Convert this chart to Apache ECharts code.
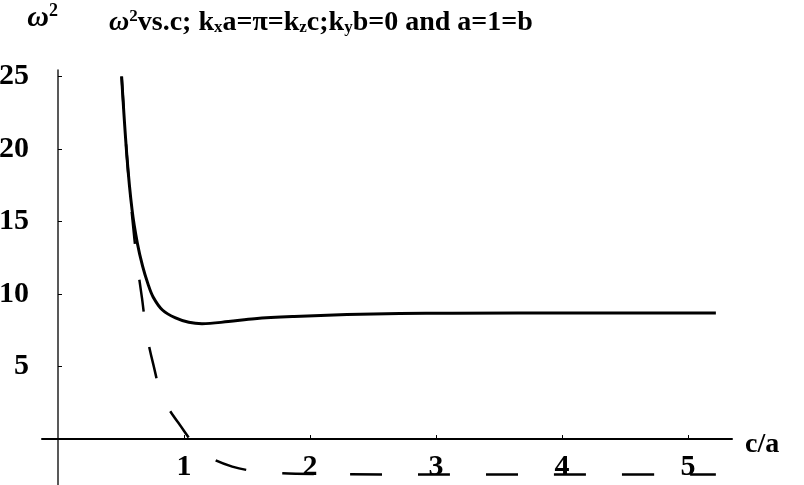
<!DOCTYPE html>
<html>
<head>
<meta charset="utf-8">
<script src="https://cdn.jsdelivr.net/npm/echarts@6/dist/echarts.min.js"></script>
<style>html,body{margin:0;padding:0;background:#fff}#c{width:804px;height:485px}</style>
</head>
<body>
<div id="c"></div>
<script>
// Data
const solidC = [0.505, 0.547, 0.588, 0.630, 0.672, 0.714, 0.755, 0.829, 0.933, 1.038, 1.143, 1.352, 1.561, 1.875, 2.294, 2.712, 3.130, 4.176, 5.222];
const solidW = [25.0, 19.5, 15.8, 13.5, 11.9, 10.7, 9.8, 8.9, 8.35, 8.05, 7.95, 8.1, 8.3, 8.45, 8.58, 8.65, 8.68, 8.7, 8.7];
const dashedC = [0.505, 0.547, 0.588, 0.630, 0.667, 0.703, 0.755, 0.829, 0.965, 1.143, 1.383, 1.666, 2.084, 3.130, 4.176, 5.222];
const dashedW = [25.0, 19.5, 15.4, 12.0, 9.7, 7.3, 5.2, 2.9, 1.0, -0.9, -1.9, -2.3, -2.42, -2.45, -2.45, -2.45];
const xTicks = [1, 2, 3, 4, 5];
const yTicks = [5, 10, 15, 20, 25];

const pairs = (xs, ys) => xs.map((x, i) => [x, ys[i]]);
const FONT = '"Liberation Serif", "DejaVu Serif", serif';

const chart = echarts.init(document.getElementById('c'), null, {renderer: 'canvas'});
chart.setOption({
  animation: false,
  backgroundColor: '#fff',
  title: {
    text: '{w|ω}{sup|2}vs.c; k{sub|x}a=π=k{sub|z}c;k{sub|y}b=0 and a=1=b',
    left: 104, top: 3,
    textStyle: {
      fontFamily: FONT, fontWeight: 'bold', fontSize: 28, color: '#000',
      rich: {
        w: {fontFamily: FONT, fontStyle: 'italic', fontWeight: 'bold', fontSize: 28, color: '#000'},
        sup: {fontFamily: FONT, fontWeight: 'bold', fontSize: 17, color: '#000', padding: [0, 0, 12, 0]},
        sub: {fontFamily: FONT, fontWeight: 'bold', fontSize: 17, color: '#000', padding: [10, 0, 0, 0]}
      }
    }
  },
  grid: {left: 42, right: 72, top: 70, bottom: 0, containLabel: false, outerBoundsMode: 'none'},
  xAxis: {
    type: 'value', min: -0.127, max: 5.35,
    name: '{a|c/a}', nameLocation: 'end', nameGap: 13,
    nameTextStyle: {
      verticalAlign: 'middle',
      rich: {a: {fontFamily: FONT, fontWeight: 'bold', fontSize: 28, color: '#000', padding: [12, 0, 0, 0]}}
    },
    axisLine: {onZero: true, lineStyle: {color: '#000', width: 2}},
    axisTick: {show: true, inside: true, length: 4, customValues: xTicks, lineStyle: {color: '#000', width: 1}},
    axisLabel: {customValues: xTicks, margin: -33, fontFamily: FONT, fontWeight: 'bold', fontSize: 30, color: '#000'},
    splitLine: {show: false}
  },
  yAxis: {
    type: 'value', min: -3.17, max: 25.45,
    name: '{w|ω}{sup|2}', nameLocation: 'end', nameGap: 36,
    nameTextStyle: {
      align: 'right',
      rich: {
        w: {fontFamily: FONT, fontStyle: 'italic', fontWeight: 'bold', fontSize: 30, color: '#000'},
        sup: {fontFamily: FONT, fontWeight: 'bold', fontSize: 18, color: '#000', padding: [0, 0, 14, 0]}
      }
    },
    axisLine: {onZero: true, lineStyle: {color: '#222', width: 1.5}},
    axisTick: {show: true, inside: true, length: 4, customValues: yTicks, lineStyle: {color: '#000', width: 1}},
    axisLabel: {customValues: yTicks, margin: 13, fontFamily: FONT, fontWeight: 'bold', fontSize: 30, color: '#000'},
    splitLine: {show: false}
  },
  series: [
    {
      type: 'line', data: pairs(solidC, solidW), smooth: 0.35, symbol: 'none',
      lineStyle: {color: '#000', width: 3}, z: 3
    },
    {
      type: 'line', data: pairs(dashedC, dashedW), smooth: 0.35, symbol: 'none',
      lineStyle: {color: '#000', width: 2.5, type: [32, 36]}, z: 2
    }
  ]
});
</script>
</body>
</html>
